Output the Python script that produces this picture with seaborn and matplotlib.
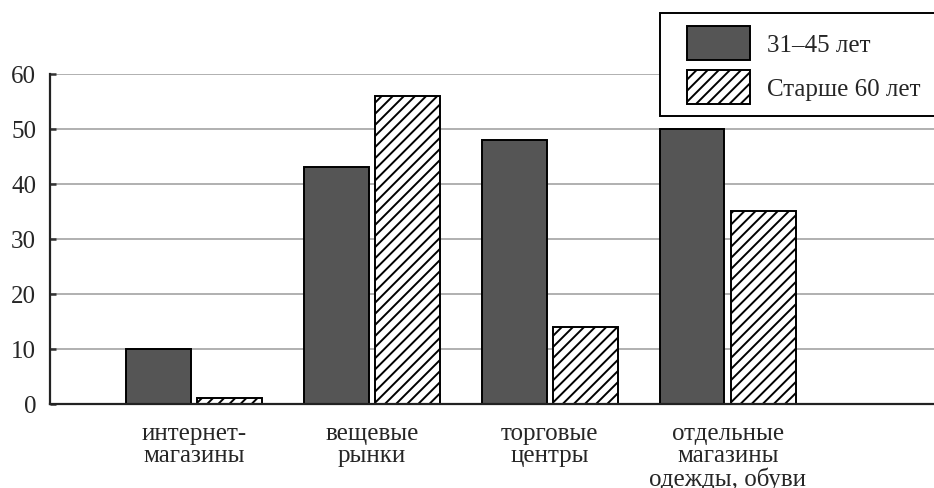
import pandas as pd
import matplotlib
matplotlib.use("Agg")
import matplotlib.pyplot as plt
from matplotlib.patches import Rectangle
import seaborn as sns

# Data
categories = ["интернет-\nмагазины", "вещевые\nрынки", "торговые\nцентры",
              "отдельные\nмагазины\nодежды, обуви"]
groups = ["31–45 лет", "Старше 60 лет"]
age_31_45 = [10, 43, 48, 50]
age_over_60 = [1, 56, 14, 35]
y_ticks = [0, 10, 20, 30, 40, 50, 60]

df = pd.DataFrame({
    "category": categories * 2,
    "group": [groups[0]] * len(categories) + [groups[1]] * len(categories),
    "value": age_31_45 + age_over_60,
})

sns.set_theme(style="white")
plt.rcParams["font.family"] = ["Liberation Serif", "DejaVu Serif"]
plt.rcParams["hatch.linewidth"] = 1.4

W, H = 934, 489
fig, ax = plt.subplots(figsize=(W / 100, H / 100), dpi=100)
fig.subplots_adjust(left=0.0535, right=1.0, bottom=0.172, top=0.847)

sns.barplot(
    data=df, x="category", y="value", hue="group",
    order=categories, hue_order=groups,
    palette={groups[0]: "#555555", groups[1]: "white"},
    edgecolor="black", linewidth=1.4,
    width=0.8, gap=0.09, legend=False, ax=ax,
)

# hatch for the second series
for bar in ax.containers[1]:
    bar.set_hatch("///")

# axes
ax.set_xlim(-0.81, 4.16)
ax.set_ylim(0, 60)
ax.set_xlabel("")
ax.set_ylabel("")
ax.set_yticks(y_ticks)
ax.yaxis.grid(True, color="#b0b0b0", linewidth=1.4)
ax.set_axisbelow(True)

# separators between groups as major ticks, labels on minor ticks
n = len(categories)
ax.set_xticks([i - 0.5 for i in range(n + 1)])
ax.set_xticklabels([])
ax.set_xticks(range(n), minor=True)
ax.set_xticklabels(categories, minor=True, fontsize=18, linespacing=1.02)
ax.tick_params(axis="x", which="major", direction="in", length=10, width=1.5, color="#333333")
ax.tick_params(axis="x", which="minor", length=0, pad=13)
ax.tick_params(axis="y", direction="in", length=4.5, width=1.8, color="#333333",
               labelsize=18, pad=10, left=True)

for side in ["top", "right"]:
    ax.spines[side].set_visible(False)
for side in ["left", "bottom"]:
    ax.spines[side].set_color("#222222")
    ax.spines[side].set_linewidth(1.6)

# legend box (runs past the right edge like in the original)
fig.patches.append(Rectangle(
    (660 / W, 1 - 117 / H), 300 / W, 103 / H, transform=fig.transFigure,
    facecolor="white", edgecolor="black", linewidth=1.4, zorder=1,
))
fig.legend(
    ax.containers, groups,
    loc="upper left", bbox_to_anchor=(687 / W, 1 - 27 / H),
    fontsize=18, frameon=False, handlelength=2.5, handleheight=1.7,
    handletextpad=0.7, labelspacing=0.4, borderpad=0, borderaxespad=0,
)

plt.savefig("out.png", dpi=100)
plt.close()
